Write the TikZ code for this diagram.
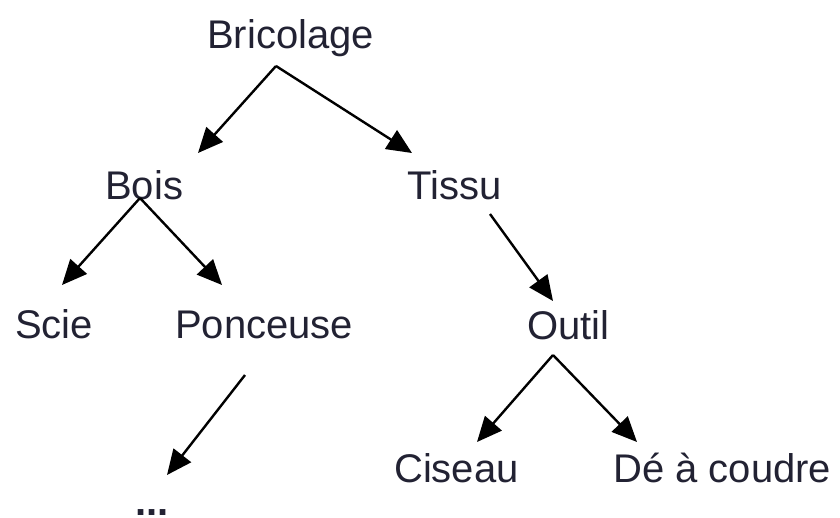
\documentclass[tikz,border=0pt]{standalone}
\usepackage{fontspec}
\setmainfont{Liberation Sans}
\usetikzlibrary{arrows.meta}
\definecolor{ink}{HTML}{222233}
\begin{document}
\begin{tikzpicture}[x=1pt,y=-1pt,
  lbl/.style={anchor=base west,inner sep=0pt,text=ink,font=\fontsize{40}{48}\selectfont},
  link/.style={line width=2.4pt,-{Triangle[length=25pt,width=22pt]}}]
\useasboundingbox (0,0) rectangle (840,517);
\node[lbl] (bric) at (207,48) {Bricolage};
\node[lbl] (bois) at (105,199) {Bois};
\node[lbl] (tissu) at (407,199) {Tissu};
\node[lbl] (scie) at (15,338) {Scie};
\node[lbl] (ponc) at (175,338) {Ponceuse};
\node[lbl] (outil) at (527,339) {Outil};
\node[lbl] (cis) at (394,482) {Ciseau};
\node[lbl] (de) at (613,482) {Dé à coudre};
\node[lbl,font=\bfseries\fontsize{40}{48}\selectfont] (more) at (135,515) {...};
% connector end points
\coordinate (bricS) at (276,66);
\coordinate (boisN) at (198,153);
\coordinate (tissuN) at (412,153);
\coordinate (boisS) at (140,198);
\coordinate (scieN) at (62,285);
\coordinate (poncN) at (222,285);
\coordinate (tissuS) at (490,214);
\coordinate (outilN) at (553,301);
\coordinate (poncS) at (245,375);
\coordinate (moreN) at (167,475);
\coordinate (outilS) at (553,355);
\coordinate (cisN) at (477,442);
\coordinate (deN) at (637,442);
\draw[link] (bricS) -- (boisN);
\draw[link] (bricS) -- (tissuN);
\draw[link] (boisS) -- (scieN);
\draw[link] (boisS) -- (poncN);
\draw[link] (tissuS) -- (outilN);
\draw[link] (poncS) -- (moreN);
\draw[link] (outilS) -- (cisN);
\draw[link] (outilS) -- (deN);
\end{tikzpicture}
\end{document}
